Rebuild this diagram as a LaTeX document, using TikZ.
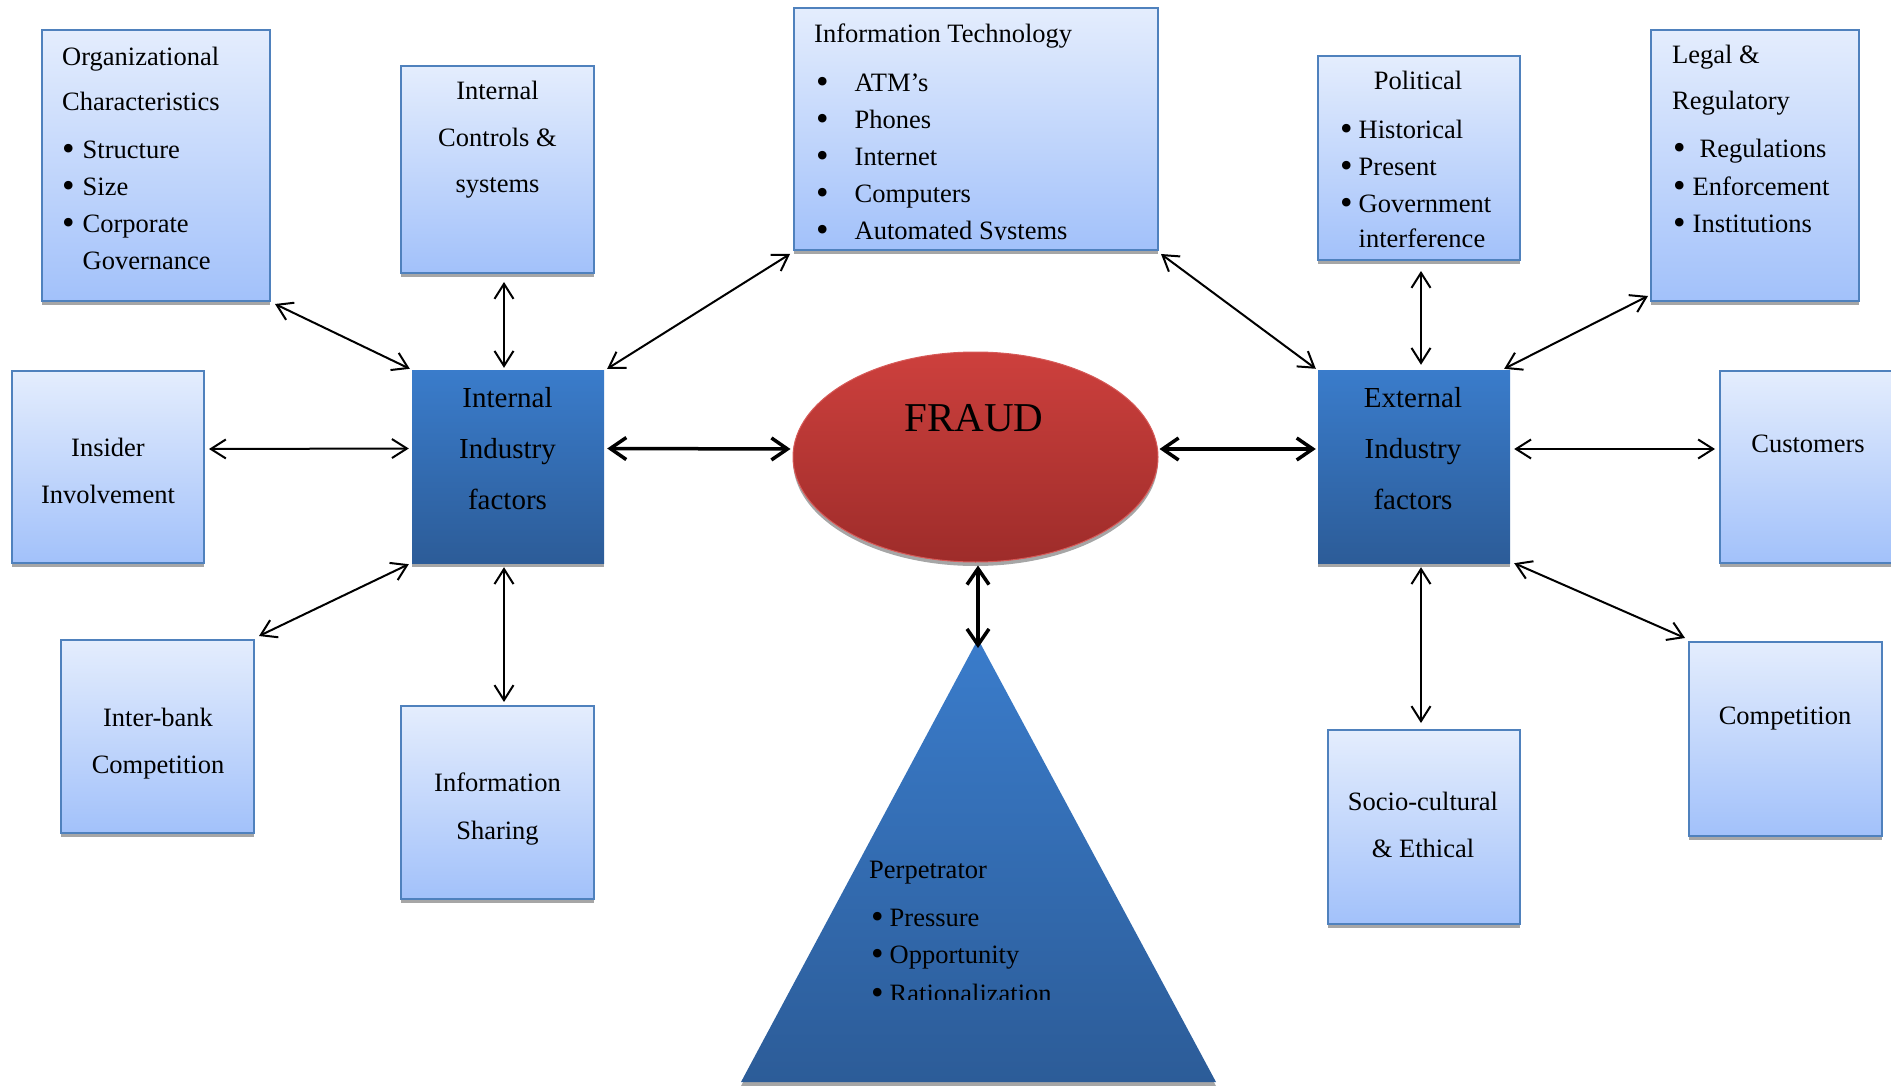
\documentclass[tikz,border=0pt]{standalone}
\usepackage{fontspec}
\setmainfont{Liberation Serif}
\usetikzlibrary{arrows.meta,shapes.geometric}

\definecolor{lighttop}{RGB}{228,237,253}
\definecolor{lightbot}{RGB}{162,193,250}
\definecolor{boxedge}{RGB}{79,129,189}
\definecolor{darktop}{RGB}{58,124,203}
\definecolor{darkbot}{RGB}{44,92,152}
\definecolor{redtop}{RGB}{205,64,61}
\definecolor{redbot}{RGB}{158,44,42}
\definecolor{rededge}{RGB}{214,90,88}
\definecolor{shadowgray}{RGB}{166,166,166}

% list bullet, a little larger than the font's own
\newcommand{\bul}{\raisebox{-2pt}{\scalebox{1.35}{•}}}

\begin{document}
\begin{tikzpicture}[x=1pt,y=-1pt,
  shadowed/.style={preaction={fill=shadowgray, transform canvas={yshift=-4pt}}},
  lightbox/.style={rectangle, inner sep=0pt, shadowed, draw=boxedge, line width=2pt,
    top color=lighttop, bottom color=lightbot},
  darkbox/.style={rectangle, inner sep=0pt, shadowed, top color=darktop, bottom color=darkbot},
  txt/.style={inner sep=0pt, text=black, font=\fontsize{26.5}{37}\selectfont},
  bigtxt/.style={inner sep=0pt, text=black, font=\fontsize{29}{51}\selectfont},
  arr/.style={line width=2pt, >={Straight Barb[length=15pt,width=19pt]}, <->},
  thickarr/.style={line width=3.5pt, >={Straight Barb[length=16pt,width=22pt]}, <->}
]
\useasboundingbox (0,0) rectangle (1891,1086);
\clip (0,0) rectangle (1891,1086);

% ---------- boxes ----------
\node[lightbox, minimum width=228pt, minimum height=271pt] (org) at (156,165.5) {};
\node[lightbox, minimum width=193pt, minimum height=207pt] (ctrl) at (497.5,169.5) {};
\node[lightbox, minimum width=364pt, minimum height=242pt] (it) at (976,129) {};
\node[lightbox, minimum width=202pt, minimum height=204pt] (pol) at (1419,158) {};
\node[lightbox, minimum width=208pt, minimum height=271pt] (legal) at (1755,165.5) {};
\node[lightbox, minimum width=192pt, minimum height=192pt] (insider) at (108,467) {};
\node[lightbox, minimum width=193pt, minimum height=193pt] (interbank) at (157.5,736.5) {};
\node[lightbox, minimum width=193pt, minimum height=193pt] (share) at (497.5,802.5) {};
\node[lightbox, minimum width=193pt, minimum height=192pt] (cust) at (1816.5,467) {};
\node[lightbox, minimum width=193pt, minimum height=194pt] (comp) at (1785.5,739) {};
\node[lightbox, minimum width=192pt, minimum height=194pt] (socio) at (1424,827) {};
\node[darkbox, minimum width=192pt, minimum height=193pt] (intf) at (508,466.5) {};
\node[darkbox, minimum width=192pt, minimum height=193pt] (extf) at (1414,466.5) {};

% ---------- fraud ellipse ----------
\node[ellipse, inner sep=0pt, minimum width=365pt, minimum height=210pt, shadowed,
  draw=rededge, line width=1pt, top color=redtop, bottom color=redbot] (fraud) at (975.5,457) {};
\node[inner sep=0pt, font=\fontsize{41}{49}\selectfont, anchor=base] (fraudtxt) at (974,431) {FRAUD};

% ---------- perpetrator triangle ----------
\path[shadowed, top color=darktop, bottom color=darkbot] (741,1082) -- (978,639) -- (1216,1082) -- cycle;
\coordinate (apex) at (978,639);

% ---------- box texts ----------
\node[txt, anchor=base west] (orgtxt) at (62,66) {\begin{tabular}[t]{@{}l@{\hspace{8pt}}l@{}}
\multicolumn{2}{@{}l@{}}{Organizational}\\[8pt]
\multicolumn{2}{@{}l@{}}{Characteristics}\\[11pt]
\bul&Structure\\
\bul&Size\\
\bul&Corporate\\
&Governance
\end{tabular}};

\node[txt, anchor=base] (ctrltxt) at (497.5,100) {\begin{tabular}[t]{@{}c@{}}
Internal\\[9.5pt]Controls \&\\[9pt]systems
\end{tabular}};

\node[txt, anchor=base west] (ittitle) at (814,43) {Information Technology};
\begin{scope}
\clip (794,8) rectangle (1158,240);
\node[txt, anchor=base west] (itlist) at (816,92) {\begin{tabular}[t]{@{}l@{\hspace{26pt}}l@{}}
\bul&ATM’s\\
\bul&Phones\\
\bul&Internet\\
\bul&Computers\\
\bul&Automated Systems
\end{tabular}};
\end{scope}

\node[txt, anchor=base] (poltitle) at (1418,90) {Political};
\node[txt, anchor=base west] (pollist) at (1340,139) {\begin{tabular}[t]{@{}l@{\hspace{6pt}}l@{}}
\bul&Historical\\
\bul&Present\\
\bul&Government\\[-2pt]
&interference
\end{tabular}};

\node[txt, anchor=base west] (legaltitle) at (1672,64) {\begin{tabular}[t]{@{}l@{}}
Legal \&\\[9pt]Regulatory
\end{tabular}};
\node[txt, anchor=base west] (legallist) at (1673,158) {\begin{tabular}[t]{@{}l@{\hspace{7pt}}l@{}}
\bul&\hspace{7pt}Regulations\\[1pt]
\bul&Enforcement\\
\bul&Institutions
\end{tabular}};

\node[bigtxt, anchor=base] (intftxt) at (507.5,407) {\begin{tabular}[t]{@{}c@{}}
Internal\\Industry\\factors
\end{tabular}};
\node[bigtxt, anchor=base] (extftxt) at (1413,407) {\begin{tabular}[t]{@{}c@{}}
External\\Industry\\factors
\end{tabular}};

\node[txt, anchor=base] (insidertxt) at (108,456) {\begin{tabular}[t]{@{}c@{}}
Insider\\[10pt]Involvement
\end{tabular}};
\node[txt, anchor=base] (interbanktxt) at (158,726) {\begin{tabular}[t]{@{}c@{}}
Inter-bank\\[10pt]Competition
\end{tabular}};
\node[txt, anchor=base] (sharetxt) at (497.5,791) {\begin{tabular}[t]{@{}c@{}}
Information\\[11pt]Sharing
\end{tabular}};
\node[txt, anchor=base] (custtxt) at (1808,452) {Customers};
\node[txt, anchor=base] (comptxt) at (1785,724) {Competition};
\node[txt, anchor=base] (sociotxt) at (1423,810) {\begin{tabular}[t]{@{}c@{}}
Socio-cultural\\[10pt]\& Ethical
\end{tabular}};

\node[txt, anchor=base west] (perptitle) at (869,878) {Perpetrator};
\begin{scope}
\clip (741,639) rectangle (1216,999.5);
\node[txt, anchor=base west] (perplist) at (871,926) {\begin{tabular}[t]{@{}l@{\hspace{6pt}}l@{}}
\bul&Pressure\\
\bul&Opportunity\\[2pt]
\bul&Rationalization
\end{tabular}};
\end{scope}

% ---------- connectors ----------
\draw[arr] ([shift={(4,2)}]org.south east) -- ([shift={(-2,-1)}]intf.north west);
\draw[arr] ([shift={(6.5,8)}]ctrl.south) -- ([shift={(-4,-2)}]intf.north);
\draw[arr] ([shift={(-3,3)}]it.south west) -- ([shift={(3,-1)}]intf.north east);
\draw[arr] ([shift={(4,-18)}]insider.east) -- ([shift={(-3,-18)}]intf.west);
\draw[arr] ([shift={(4,-3)}]interbank.north east) -- ([shift={(-3,1)}]intf.south west);
\draw[arr] ([shift={(-4,4)}]intf.south) -- ([shift={(6.5,-3)}]share.north);
\draw[thickarr] ([shift={(3,-18)}]intf.east) -- ([shift={(-2,-8)}]fraud.west);
\draw[thickarr] ([shift={(1,-8)}]fraud.east) -- ([shift={(-2,-17.5)}]extf.west);
\draw[thickarr] ([shift={(2.5,3)}]fraud.south) -- ([shift={(0,9)}]apex);
\draw[arr] ([shift={(2,3)}]it.south east) -- ([shift={(-2,-1)}]extf.north west);
\draw[arr] ([shift={(2,10)}]pol.south) -- ([shift={(7,-5)}]extf.north);
\draw[arr] ([shift={(-2,-6)}]legal.south west) -- ([shift={(-6,-1)}]extf.north east);
\draw[arr] ([shift={(4,-17.5)}]extf.east) -- ([shift={(-4,-18)}]cust.west);
\draw[arr] ([shift={(4,0)}]extf.south east) -- ([shift={(-3,-3)}]comp.north west);
\draw[arr] ([shift={(7,4)}]extf.south) -- ([shift={(-3,-6)}]socio.north);
\end{tikzpicture}
\end{document}
